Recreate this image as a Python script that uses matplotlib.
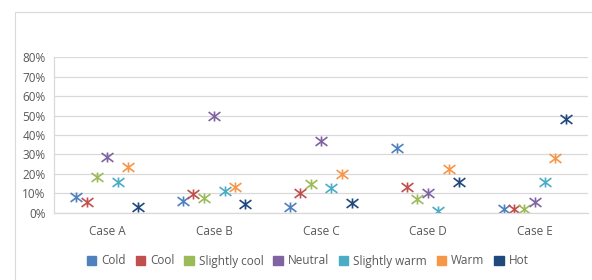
import matplotlib.pyplot as plt
import matplotlib.patches as mpatches
from matplotlib.path import Path
import numpy as np

cases = ['Case A', 'Case B', 'Case C', 'Case D', 'Case E']
series = ['Cold', 'Cool', 'Slightly cool', 'Neutral', 'Slightly warm', 'Warm', 'Hot']
colors = ['#4F81BD', '#C0504D', '#9BBB59', '#8064A2', '#4BACC6', '#F79646', '#1F497D']

cold = [8.0, 6.2, 2.8, 33.4, 1.8]
cool = [5.4, 9.6, 10.0, 13.2, 1.8]
slightly_cool = [18.2, 7.5, 15.0, 7.2, 1.8]
neutral = [28.5, 50.0, 37.0, 10.2, 5.5]
slightly_warm = [15.7, 11.0, 12.7, 1.0, 15.7]
warm = [23.4, 13.2, 20.0, 22.4, 28.2]
hot = [2.9, 4.5, 5.2, 15.8, 48.0]
values = [cold, cool, slightly_cool, neutral, slightly_warm, warm, hot]

plt.rcParams['font.family'] = ['Open Sans', 'DejaVu Sans']
text_color = '#595959'

# Excel-style star marker: an X with a short vertical stroke
star = Path([(-1, -0.75), (1, 0.75), (-1, 0.75), (1, -0.75), (0, -0.85), (0, 0.85)],
            [Path.MOVETO, Path.LINETO, Path.MOVETO, Path.LINETO, Path.MOVETO, Path.LINETO])

fig = plt.figure(figsize=(5.92, 2.8), dpi=100)
# chart area border
fig.patches.append(mpatches.Rectangle((15 / 592, -0.1), 1.0, 1.1 - 12 / 280,
                                      transform=fig.transFigure, fill=False,
                                      edgecolor='#D9D9D9', linewidth=0.8))

ax = fig.add_axes([54 / 592, 1 - 212.7 / 280, (588 - 54) / 592, (212.7 - 57.3) / 280])

x = np.arange(len(cases))
offsets = (np.arange(len(series)) - 3) * 0.097
for name, vals, col, off in zip(series, values, colors, offsets):
    ax.plot(x + off, vals, linestyle='none', marker=star, markersize=8.5,
            markeredgewidth=1.2, color=col, label=name)

ax.set_xlim(-0.5, len(cases) - 0.5)
ax.set_ylim(0, 80)
ax.set_yticks(np.arange(0, 81, 10))
ax.set_yticklabels([f'{v}%' for v in range(0, 81, 10)])
ax.set_xticks(x)
ax.set_xticklabels(cases)
ax.tick_params(axis='both', length=0, labelsize=8.5, labelcolor=text_color)
ax.tick_params(axis='x', pad=9)
ax.tick_params(axis='y', pad=6)
ax.grid(axis='y', color='#D9D9D9', linewidth=0.9)
ax.set_axisbelow(True)
for s in ['top', 'right']:
    ax.spines[s].set_visible(False)
for s in ['left', 'bottom']:
    ax.spines[s].set_color('#D9D9D9')
    ax.spines[s].set_linewidth(0.9)

handles = [mpatches.Patch(facecolor=c, edgecolor=c, label=n) for n, c in zip(series, colors)]
leg = fig.legend(handles=handles, loc='center', bbox_to_anchor=(0.52, 1 - 261 / 280),
                 ncol=7, frameon=False, fontsize=8.5, handlelength=0.8, handleheight=0.8,
                 handletextpad=0.45, columnspacing=0.8)
for t in leg.get_texts():
    t.set_color(text_color)

fig.savefig('out.png', dpi=100)
